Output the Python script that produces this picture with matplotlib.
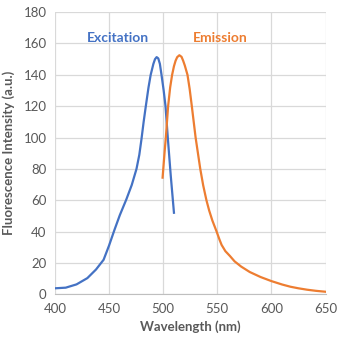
import matplotlib
matplotlib.use("Agg")
import matplotlib.pyplot as plt

# valori
ex_wl = [400, 410, 420, 430, 438, 445, 450, 455, 460, 466, 471, 475.4, 478, 480, 482,
         484, 486.5, 488.5, 491, 492.5, 494, 495.5, 497, 498.5, 500.5, 502.2, 504.3, 507, 510]
ex_int = [3.8, 4.2, 6.3, 10.3, 15.8, 22, 31, 41, 50.5, 60.5, 69.7, 80, 89, 99, 110,
          120, 132, 140, 147, 150, 151.3, 150.5, 147, 140, 130, 120, 100, 76, 52]

em_wl = [499.5, 501.5, 502.5, 504.6, 506.5, 508.3, 510, 511.5, 513, 515, 517, 518.5, 520,
         522.5, 524.5, 526.5, 530, 534.3, 537, 540, 542.5, 545.5, 549.4, 552, 554, 557.5,
         561.6, 566, 572, 580, 590, 600, 610, 617.6, 625, 633, 641, 650]
em_int = [74.4, 92, 100, 120, 132, 140, 145.5, 149, 151.3, 152.5, 151.5, 149, 146,
          140, 131, 120, 100, 80, 69.5, 60, 53.5, 47, 40, 35, 31.5, 27.5,
          24.5, 21, 17.7, 14.2, 11, 8.4, 6.2, 4.8, 3.8, 2.9, 2.2, 1.6]

x_ticks = [400, 450, 500, 550, 600, 650]
y_ticks = [0, 20, 40, 60, 80, 100, 120, 140, 160, 180]

blue = "#4472C4"
orange = "#ED7D31"
gray = "#595959"

plt.rcParams["font.family"] = ["Lato", "DejaVu Sans"]

fig = plt.figure(figsize=(3.43, 3.47), dpi=100)
ax = fig.add_axes([0.160, 0.152, 0.789, 0.813])

ax.plot(ex_wl, ex_int, color=blue, lw=1.6)
ax.plot(em_wl, em_int, color=orange, lw=1.6)

ax.text(458, 163.5, "Excitation", color=blue, fontsize=10, fontweight="bold",
        ha="center", va="center")
ax.text(553, 163.5, "Emission", color=orange, fontsize=10, fontweight="bold",
        ha="center", va="center")

ax.set_xlim(400, 650)
ax.set_ylim(0, 180)
ax.set_xticks(x_ticks)
ax.set_yticks(y_ticks)
ax.tick_params(length=0, labelsize=9.5, labelcolor=gray, pad=6)
ax.grid(True, color="#D9D9D9", lw=0.9)
ax.set_axisbelow(True)
for s in ["top", "right", "left"]:
    ax.spines[s].set_visible(False)
ax.spines["bottom"].set_color("#BFBFBF")

ax.set_xlabel("Wavelength (nm)", fontsize=9.5, fontweight="bold", color=gray, labelpad=4)
ax.set_ylabel("Fluorescence Intensity (a.u.)", fontsize=9.5, fontweight="bold",
              color=gray, labelpad=6)

fig.savefig("out.png", dpi=100)
